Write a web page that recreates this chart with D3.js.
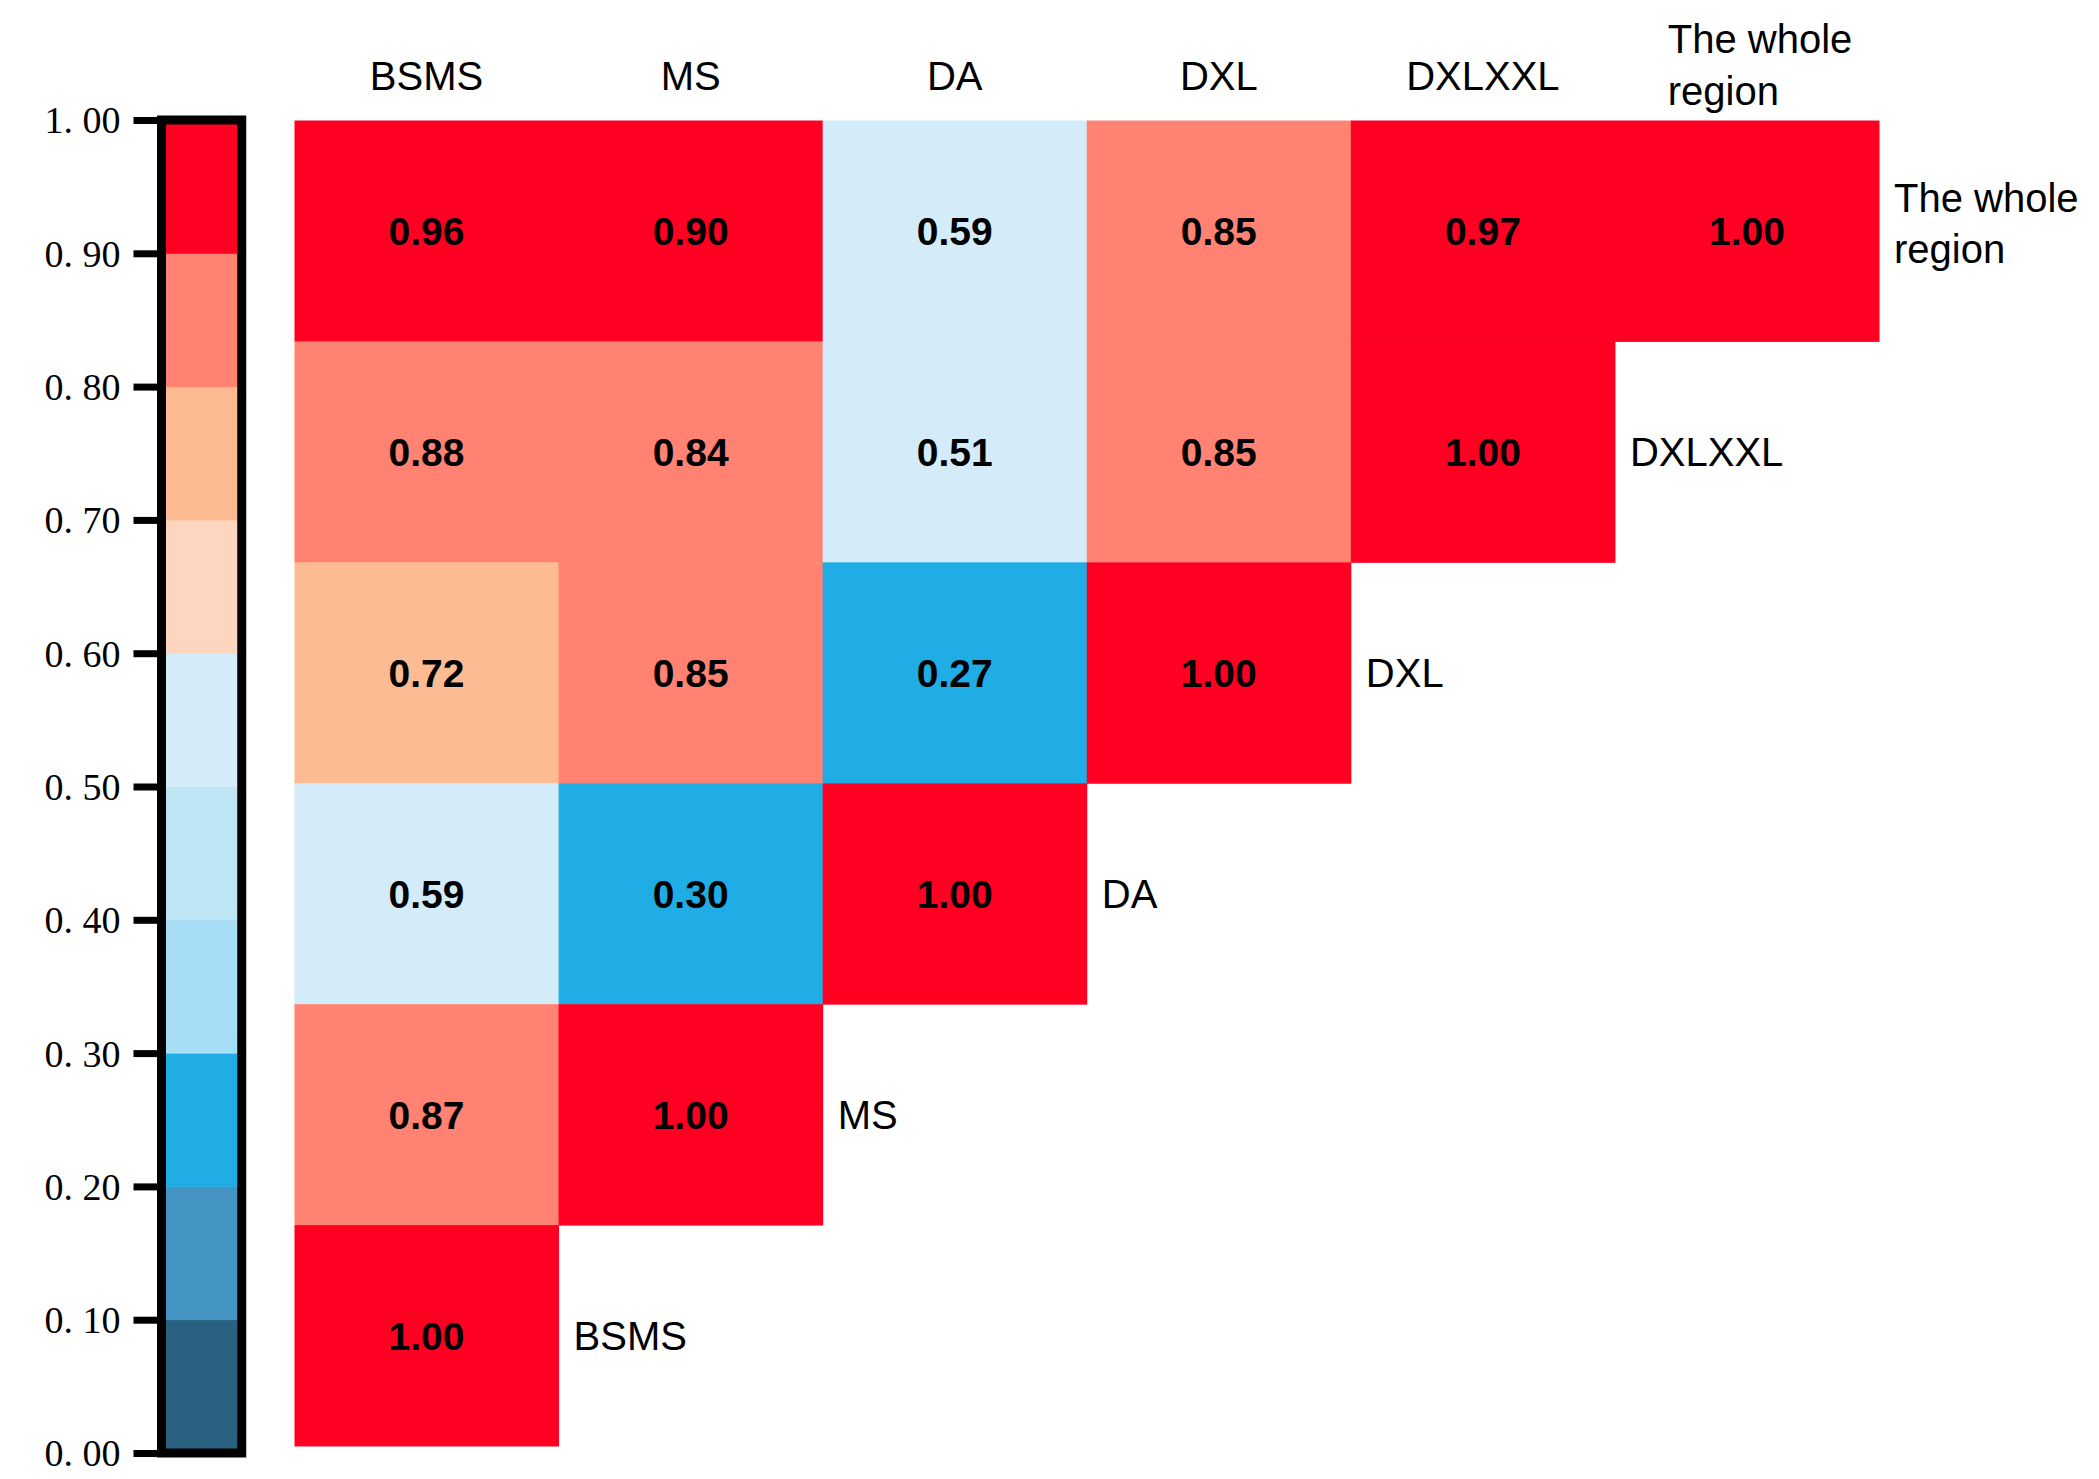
<!DOCTYPE html>
<html>
<head>
<meta charset="utf-8">
<script src="https://cdn.jsdelivr.net/npm/d3@7"></script>
<style>
  html, body { margin: 0; padding: 0; background: #fff; }
  svg { display: block; }
</style>
</head>
<body>
<svg id="chart" width="2099" height="1479"></svg>
<script>
// ---- data ----
const columns = ["BSMS", "MS", "DA", "DXL", "DXLXXL", "The whole region"];
const rowsTopToBottom = ["The whole region", "DXLXXL", "DXL", "DA", "MS", "BSMS"];
// values per row (top to bottom), columns left to right
const rowWhole  = [0.96, 0.90, 0.59, 0.85, 0.97, 1.00];
const rowDXLXXL = [0.88, 0.84, 0.51, 0.85, 1.00];
const rowDXL    = [0.72, 0.85, 0.27, 1.00];
const rowDA     = [0.59, 0.298, 1.00];
const rowMS     = [0.87, 1.00];
const rowBSMS   = [1.00];
const matrixRows = [rowWhole, rowDXLXXL, rowDXL, rowDA, rowMS, rowBSMS];

const binThresholds = [0.1, 0.2, 0.3, 0.4, 0.5, 0.6, 0.7, 0.8, 0.9];
const binColors = ["#2A6080", "#4393C3", "#20ACE4", "#A7DDF5", "#BDE5F4",
                   "#D4ECFA", "#FED5BF", "#FDBB93", "#FF8272", "#FF0022"];
const tickValues = [0, 0.1, 0.2, 0.3, 0.4, 0.5, 0.6, 0.7, 0.8, 0.9, 1.0];
const tickLabels = ["0. 00", "0. 10", "0. 20", "0. 30", "0. 40", "0. 50",
                    "0. 60", "0. 70", "0. 80", "0. 90", "1. 00"];

// ---- layout ----
const svg = d3.select("#chart");
const color = d3.scaleThreshold().domain(binThresholds).range(binColors);

const x = d3.scaleBand().domain(columns).range([294.5, 1879]).padding(0);
const y = d3.scaleBand().domain(rowsTopToBottom).range([120.5, 1446]).padding(0);

const cells = [];
matrixRows.forEach((vals, ri) => {
  vals.forEach((v, ci) => cells.push({ row: rowsTopToBottom[ri], col: columns[ci], v }));
});

const g = svg.append("g");
g.selectAll("rect.cell").data(cells).join("rect")
  .attr("class", "cell")
  .attr("x", d => x(d.col))
  .attr("y", d => y(d.row))
  .attr("width", x.bandwidth() + 0.5)
  .attr("height", y.bandwidth() + 0.5)
  .attr("fill", d => color(d.v));

g.selectAll("text.val").data(cells).join("text")
  .attr("class", "val")
  .attr("x", d => x(d.col) + x.bandwidth() / 2)
  .attr("y", d => y(d.row) + y.bandwidth() / 2 + 14)
  .attr("text-anchor", "middle")
  .attr("font-family", "Liberation Sans, Arial, sans-serif")
  .attr("font-weight", "bold")
  .attr("font-size", 39)
  .attr("fill", "#000")
  .text(d => d3.format(".2f")(d.v));

// column labels on top
const labelFont = "Liberation Sans, Arial, sans-serif";
columns.forEach(c => {
  const words = c === "The whole region" ? ["The whole", "region"] : [c];
  if (words.length === 1) {
    svg.append("text")
      .attr("x", x(c) + x.bandwidth() / 2)
      .attr("y", 90)
      .attr("text-anchor", "middle")
      .attr("font-family", labelFont)
      .attr("font-size", 40)
      .text(c);
  } else {
    const t = svg.append("text")
      .attr("font-family", labelFont)
      .attr("font-size", 40);
    words.forEach((w, i) => {
      t.append("tspan")
        .attr("x", x(c) + x.bandwidth() * 0.2)
        .attr("y", 53 + i * 52)
        .text(w);
    });
  }
});

// row labels to the right of the diagonal
rowsTopToBottom.forEach((r, ri) => {
  const nCells = matrixRows[ri].length;
  const lastCol = columns[nCells - 1];
  const lx = x(lastCol) + x.bandwidth() + 15;
  const cy = y(r) + y.bandwidth() / 2;
  if (r === "The whole region") {
    const t = svg.append("text")
      .attr("font-family", labelFont)
      .attr("font-size", 40);
    ["The whole", "region"].forEach((w, i) => {
      t.append("tspan").attr("x", lx).attr("y", cy - 19 + i * 51).text(w);
    });
  } else {
    svg.append("text")
      .attr("x", lx)
      .attr("y", cy + 14)
      .attr("font-family", labelFont)
      .attr("font-size", 40)
      .text(r);
  }
});

// ---- colour bar ----
const cb = d3.scaleLinear().domain([0, 1]).range([1453, 120]);
const cbX0 = 161.5, cbX1 = 241.75;
const bins = binColors.map((c, i) => ({ lo: i === 0 ? 0 : binThresholds[i - 1],
                                        hi: i === binColors.length - 1 ? 1 : binThresholds[i], c }));
svg.append("g").selectAll("rect").data(bins).join("rect")
  .attr("x", cbX0)
  .attr("y", d => cb(d.hi))
  .attr("width", cbX1 - cbX0)
  .attr("height", d => cb(d.lo) - cb(d.hi) + 0.5)
  .attr("fill", d => d.c);

svg.append("rect")
  .attr("x", cbX0).attr("y", cb(1))
  .attr("width", cbX1 - cbX0).attr("height", cb(0) - cb(1))
  .attr("fill", "none").attr("stroke", "#000").attr("stroke-width", 9);

const axis = d3.axisLeft(cb)
  .tickValues(tickValues)
  .tickSize(28)
  .tickPadding(13)
  .tickFormat((d, i) => tickLabels[i]);

const ax = svg.append("g").attr("transform", `translate(${cbX0},0)`).call(axis);
ax.select(".domain").remove();
ax.selectAll(".tick line").attr("stroke", "#000").attr("stroke-width", 7);
ax.selectAll(".tick text")
  .attr("font-family", "Liberation Serif, Times New Roman, serif")
  .attr("font-size", 38)
  .attr("fill", "#000")
  .attr("dy", "0.34em");
</script>
</body>
</html>
